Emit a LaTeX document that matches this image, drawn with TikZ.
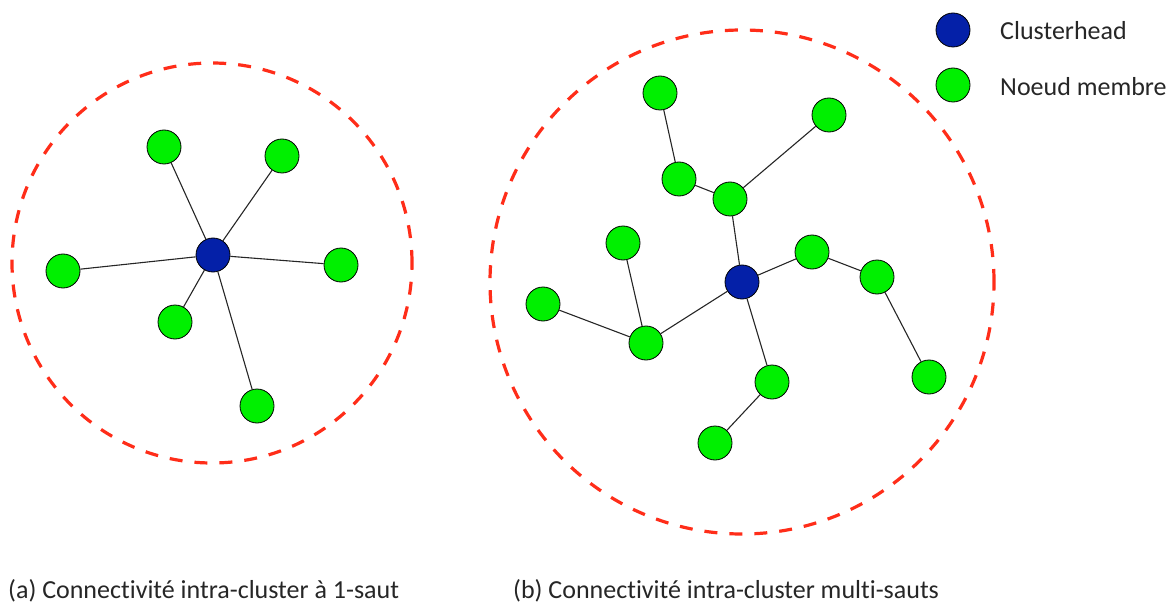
\documentclass[tikz,border=0pt]{standalone}
\usepackage{fontspec}
\setmainfont{Carlito}[Ligatures={NoCommon}]
\definecolor{nodegreen}{RGB}{0,240,0}
\definecolor{chblue}{RGB}{4,32,168}
\definecolor{dashred}{RGB}{255,45,25}
\tikzset{
  member/.style={circle, draw=black, line width=0.8pt, fill=nodegreen, minimum size=34pt, inner sep=0pt},
  head/.style={circle, draw=black, line width=0.8pt, fill=chblue, minimum size=34pt, inner sep=0pt},
  link/.style={draw=black!85, line width=1.1pt},
  clusterzone/.style={circle, draw=dashred, line width=3.2pt, dash pattern=on 13pt off 12pt, inner sep=0pt},
  lbl/.style={font=\fontsize{26}{28}\selectfont, anchor=west, inner sep=0pt, text=black!85}
}
\begin{document}
\begin{tikzpicture}[x=1pt,y=-1pt]
\useasboundingbox (0,0) rectangle (1172,604);
% cluster (a)
\node[clusterzone, minimum size=400pt] (za) at (212,263) {};
\node[head] (ha) at (213,255) {};
\node[member] (a1) at (164,147) {};
\node[member] (a2) at (282,156) {};
\node[member] (a3) at (63,271) {};
\node[member] (a4) at (341,265) {};
\node[member] (a5) at (175,322) {};
\node[member] (a6) at (257,406) {};
\foreach \n in {a1,a2,a3,a4,a5,a6} \draw[link] (ha) -- (\n);
% cluster (b)
\node[clusterzone, minimum size=504pt] (zb) at (742,282) {};
\node[head] (hb) at (742,282) {};
\node[member] (bA) at (660,93) {};
\node[member] (bB) at (829,115) {};
\node[member] (bC) at (679,179) {};
\node[member] (bD) at (730,199) {};
\node[member] (bE) at (623,243) {};
\node[member] (bF) at (543,304) {};
\node[member] (bG) at (646,343) {};
\node[member] (bH) at (812,252) {};
\node[member] (bI) at (877,277) {};
\node[member] (bJ) at (772,382) {};
\node[member] (bK) at (929,377) {};
\node[member] (bL) at (715,443) {};
\draw[link] (bA) -- (bC);
\draw[link] (bC) -- (bD);
\draw[link] (bD) -- (bB);
\draw[link] (bD) -- (hb);
\draw[link] (bE) -- (bG);
\draw[link] (bF) -- (bG);
\draw[link] (bG) -- (hb);
\draw[link] (hb) -- (bH);
\draw[link] (bH) -- (bI);
\draw[link] (bI) -- (bK);
\draw[link] (hb) -- (bJ);
\draw[link] (bJ) -- (bL);
% legend
\node[head] (lh) at (953,30) {};
\node[member] (lm) at (953,85) {};
\node[lbl] (lht) at (1000,31) {Clusterhead};
\node[lbl] (lmt) at (1000,87) {Noeud membre};
% captions
\node[lbl] (capa) at (8,591) {(a) Connectivité intra-cluster à 1-saut};
\node[lbl] (capb) at (513,591) {(b) Connectivité intra-cluster multi-sauts};
\end{tikzpicture}
\end{document}
